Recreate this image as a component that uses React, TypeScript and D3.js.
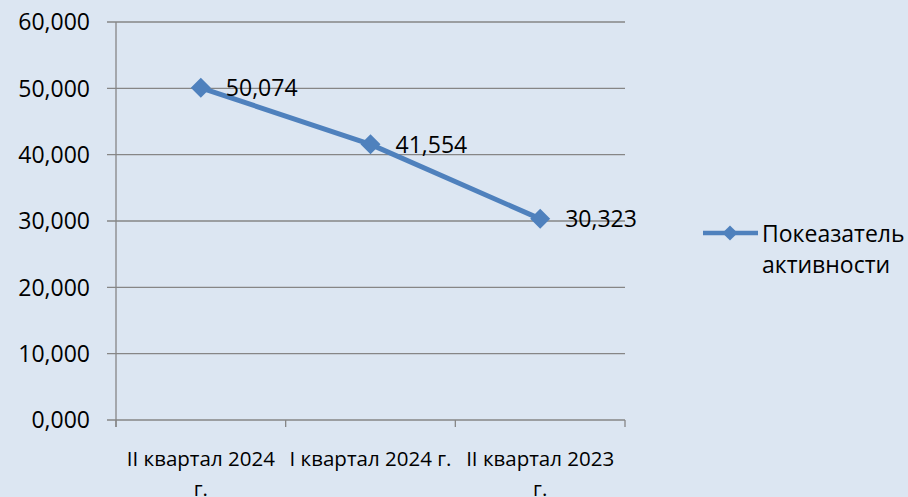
import React from "react";
import * as d3 from "d3";

const categories = ["II квартал 2024 г.", "I квартал 2024 г.", "II квартал 2023 г."];
const categoryLines = [["II квартал 2024", "г."], ["I квартал 2024 г."], ["II квартал 2023", "г."]];
const values = [50.074, 41.554, 30.323];
const yTicks = [0, 10, 20, 30, 40, 50, 60];
const seriesName = ["Покеазатель", "активности"];

const W = 908, H = 497;
const FONT = "'Open Sans', 'Noto Sans', sans-serif";
const fmt = (v: number) => v.toFixed(3).replace(".", ",");

export default function App() {
  const x = d3.scaleBand<string>().domain(categories).range([116, 625]).padding(0);
  const y = d3.scaleLinear().domain([0, 60]).range([420, 22]);
  const line = d3.line<number>().x((_, i) => (x(categories[i]) as number) + x.bandwidth() / 2).y((d) => y(d));
  const marker = d3.symbol().type(d3.symbolSquare).size(200);
  const legendMarker = d3.symbol().type(d3.symbolSquare).size(115);
  const grid = "#868686";
  const blue = "#4f81bd";
  const tickXs = [...categories.map((c) => x(c) as number), 625];
  return (
    <svg width={W} height={H} style={{ position: "absolute", left: 0, top: 0, display: "block" }}>
      <rect width={W} height={H} fill="#dce6f2" />
      {yTicks.map((t) => (
        <g key={t}>
          <line x1={107} x2={625} y1={y(t)} y2={y(t)} stroke={grid} strokeWidth={1.3} />
          <text x={90} y={y(t)} dy="0.36em" textAnchor="end" fontFamily={FONT} fontSize={23} fill="#000">{fmt(t)}</text>
        </g>
      ))}
      <line x1={116} x2={116} y1={22} y2={427} stroke={grid} strokeWidth={1.3} />
      {tickXs.map((tx, i) => (
        <line key={i} x1={tx} x2={tx} y1={420} y2={427} stroke={grid} strokeWidth={1.3} />
      ))}
      {categoryLines.map((ls, i) => (
        <text key={i} textAnchor="middle" fontFamily={FONT} fontSize={20.5} fill="#000">
          {ls.map((l, j) => (
            <tspan key={j} x={(x(categories[i]) as number) + x.bandwidth() / 2} y={466 + j * 30}>{l}</tspan>
          ))}
        </text>
      ))}
      <path d={line(values) || ""} fill="none" stroke={blue} strokeWidth={5} strokeLinejoin="round" />
      {values.map((v, i) => {
        const cx = (x(categories[i]) as number) + x.bandwidth() / 2;
        return (
          <g key={i}>
            <path d={marker() || ""} transform={`translate(${cx},${y(v)}) rotate(45)`} fill={blue} />
            <text x={cx + 25} y={y(v)} dy="0.36em" fontFamily={FONT} fontSize={23} fill="#000">{fmt(v)}</text>
          </g>
        );
      })}
      <line x1={703} x2={758} y1={233} y2={233} stroke={blue} strokeWidth={4.5} />
      <path d={legendMarker() || ""} transform="translate(730,233) rotate(45)" fill={blue} />
      <text fontFamily={FONT} fontSize={23} fill="#000">
        <tspan x={762} y={242}>{seriesName[0]}</tspan>
        <tspan x={762} y={273}>{seriesName[1]}</tspan>
      </text>
    </svg>
  );
}
